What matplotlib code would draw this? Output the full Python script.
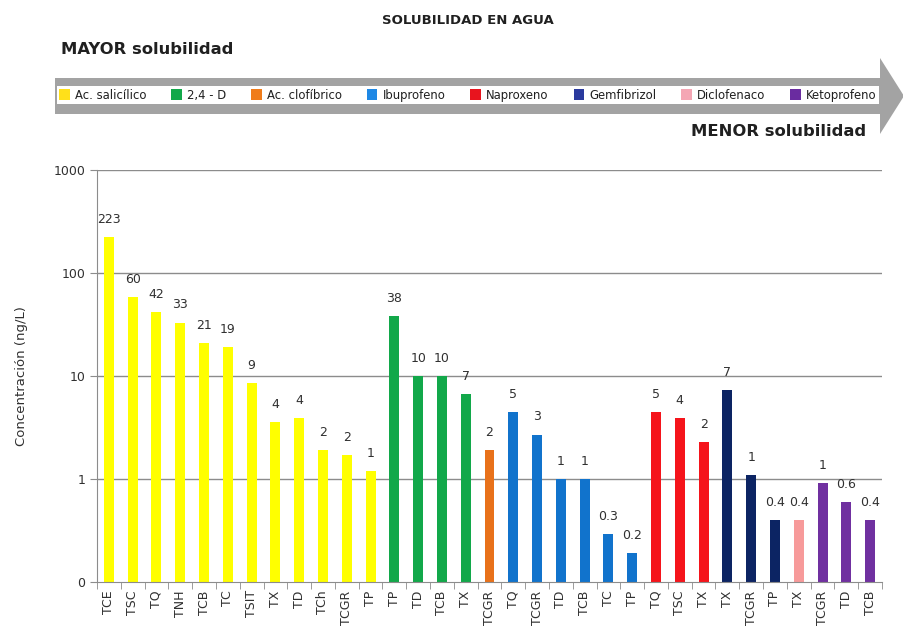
import matplotlib
matplotlib.use("Agg")
import matplotlib.pyplot as plt
from matplotlib.patches import Polygon, Patch
import numpy as np

plt.rcParams['font.family'] = ['DejaVu Sans']

# ---- data ----
sites = ["TCE", "TSC", "TQ", "TNH", "TCB", "TC", "TSIT", "TX", "TD", "TCh", "TCGR", "TP",
         "TP", "TD", "TCB", "TX",
         "TCGR",
         "TQ", "TCGR", "TD", "TCB", "TC", "TP",
         "TQ", "TSC", "TX",
         "TX", "TCGR", "TP",
         "TX",
         "TCGR", "TD", "TCB"]
values = [223, 58, 42, 33, 21, 19, 8.5, 3.6, 3.9, 1.9, 1.7, 1.2,
          38, 10, 10, 6.7,
          1.9,
          4.5, 2.7, 1.0, 1.0, 0.29, 0.19,
          4.5, 3.9, 2.3,
          7.3, 1.1, 0.4,
          0.4,
          0.92, 0.6, 0.4]
value_labels = ["223", "60", "42", "33", "21", "19", "9", "4", "4", "2", "2", "1",
                "38", "10", "10", "7",
                "2",
                "5", "3", "1", "1", "0.3", "0.2",
                "5", "4", "2",
                "7", "1", "0.4",
                "0.4",
                "1", "0.6", "0.4"]
compounds = ["Ac. salicílico", "2,4 - D", "Ac. clofíbrico", "Ibuprofeno",
             "Naproxeno", "Gemfibrizol", "Diclofenaco", "Ketoprofeno"]
compound_counts = [12, 4, 1, 6, 3, 3, 1, 3]
compound_colors = ["#FFFF00", "#12A84A", "#E8711A", "#1173CC",
                   "#F5141B", "#0C2463", "#F79A9A", "#7030A0"]
legend_colors = ["#FFE01A", "#12A84A", "#F07C1A", "#1E88E5",
                 "#E8141E", "#2A3A9E", "#F4A6B4", "#6A2CA0"]
yticks = [0.1, 1, 10, 100, 1000]
ytick_labels = ["0", "1", "10", "100", "1000"]

bar_colors = []
for c, n in zip(compound_colors, compound_counts):
    bar_colors += [c] * n

fig = plt.figure(figsize=(9.04, 6.37), dpi=100)
W, H = 904, 637
ax = fig.add_axes([97 / W, 1 - 582 / H, (882 - 97) / W, (582 - 170) / H])

x = np.arange(len(values))
ax.set_yscale('log')
ax.set_ylim(0.1, 1000)
ax.set_xlim(-0.5, len(values) - 0.5)
for yv in [1, 10, 100, 1000]:
    ax.axhline(yv, color="#8c8c8c", lw=1.0, zorder=0)
ax.bar(x, values, width=0.42, color=bar_colors, zorder=2)

for xi, v, lab in zip(x, values, value_labels):
    ax.annotate(lab, (xi, v), xytext=(0, 8), textcoords='offset points',
                ha='center', va='bottom', fontsize=9, color="#303030")

ax.set_yticks(yticks)
ax.set_yticklabels(ytick_labels, fontsize=9, color="#303030")
ax.yaxis.set_minor_locator(matplotlib.ticker.NullLocator())
ax.set_xticks(x)
ax.set_xticklabels(sites, rotation=90, fontsize=9, color="#303030")
ax.tick_params(axis='x', which='major', length=0, pad=6)
ax.set_xticks(np.arange(-0.5, len(values)), minor=True)
ax.tick_params(axis='x', which='minor', length=5, color="#8c8c8c")
ax.tick_params(axis='y', length=5, color="#8c8c8c")
for s in ['top', 'right']:
    ax.spines[s].set_visible(False)
for s in ['left', 'bottom']:
    ax.spines[s].set_color("#8c8c8c")
ax.set_ylabel("Concentración (ng/L)", fontsize=9.5, color="#303030", labelpad=18)

# ---- header: title, arrow, legend ----
fig.text(468 / W, 1 - 20 / H, "SOLUBILIDAD EN AGUA", ha='center', va='center',
         fontsize=9.5, fontweight='bold', color="#202020")
fig.text(61 / W, 1 - 50 / H, "MAYOR solubilidad", ha='left', va='center',
         fontsize=11.8, fontweight='bold', color="#202020")
fig.text(866 / W, 1 - 131 / H, "MENOR solubilidad", ha='right', va='center',
         fontsize=11.8, fontweight='bold', color="#202020")

arrow_px = [(55, 78), (880, 78), (880, 58), (904, 96), (880, 134), (880, 114), (55, 114)]
arrow = Polygon([(px / W, 1 - py / H) for px, py in arrow_px], closed=True,
                transform=fig.transFigure, facecolor="#a3a3a3", edgecolor="none")
fig.patches.append(arrow)

handles = [Patch(facecolor=c, edgecolor='none') for c in legend_colors]
leg = fig.legend(handles, compounds, ncol=8, loc='lower left', mode='expand',
                 bbox_to_anchor=(57 / W, 1 - 104 / H, (879 - 57) / W, 22 / H),
                 fontsize=8.4, frameon=True, fancybox=False, framealpha=1.0,
                 handlelength=0.9, handleheight=1.0,
                 handletextpad=0.45, columnspacing=0.5, borderpad=0.2,
                 borderaxespad=0)
leg.get_frame().set_facecolor('white')
leg.get_frame().set_edgecolor('none')
for t in leg.get_texts():
    t.set_color("#202020")

fig.savefig("out.png", dpi=100)
